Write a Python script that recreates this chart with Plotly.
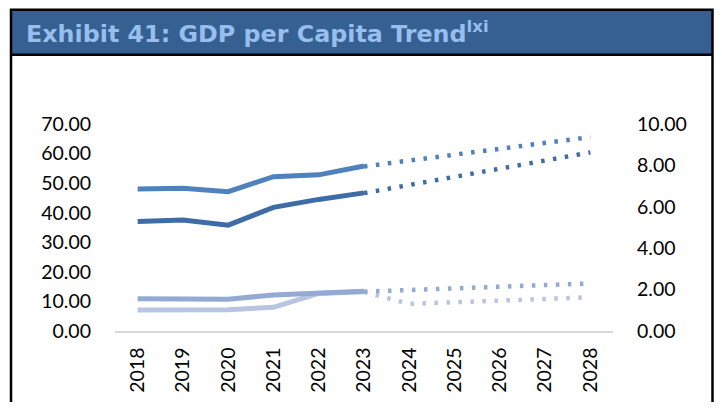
import plotly.graph_objects as go

years = ["2018", "2019", "2020", "2021", "2022", "2023", "2024", "2025", "2026", "2027", "2028"]
hist_years = years[:6]
fcst_years = years[5:]

# Historical series (left axis)
hist_a = [48.0, 48.3, 47.1, 52.2, 52.8, 55.8]
hist_b = [37.0, 37.5, 35.8, 41.8, 44.5, 46.7]
hist_c = [10.9, 10.9, 10.7, 12.2, 13.0, 13.4]
hist_d = [7.1, 7.2, 7.2, 8.0, 12.7, 13.3]

# Forecast series (right axis)
fcst_a = [7.95, 8.23, 8.52, 8.80, 9.09, 9.37]
fcst_b = [6.66, 7.05, 7.45, 7.85, 8.24, 8.63]
fcst_c = [1.90, 1.98, 2.06, 2.14, 2.22, 2.30]
fcst_d = [1.89, 1.31, 1.39, 1.46, 1.54, 1.63]

left_ticks = [0, 10, 20, 30, 40, 50, 60, 70]
right_ticks = [0, 2, 4, 6, 8, 10]

col_a = "#4F81BD"
col_b = "#3D6CA6"
col_c = "#94AAD4"
col_d = "#B7C5E2"

# page has an 8px body margin; figure sized to fit inside the 722x410 window
OFF = 8
W, H = 722 - 2 * OFF, 410 - 2 * OFF
# target plot area in page pixels: x 115..613, y 124.2..331
L = 115 - OFF
R = W - (613 - OFF)
T = 124.2 - OFF
B = H - (331 - OFF)
PW = W - L - R
PH = H - T - B


def px(x):
    return (x - OFF - L) / PW


def py(y):
    return (H - B - (y - OFF)) / PH


fig = go.Figure()

for vals, col in [(hist_d, col_d), (hist_c, col_c), (hist_b, col_b), (hist_a, col_a)]:
    fig.add_trace(go.Scatter(x=hist_years, y=vals, mode="lines",
                             line=dict(color=col, width=5), showlegend=False,
                             hoverinfo="skip", yaxis="y"))

for vals, col in [(fcst_d, col_d), (fcst_c, col_c), (fcst_b, col_b), (fcst_a, col_a)]:
    fig.add_trace(go.Scatter(x=fcst_years, y=vals, mode="lines",
                             line=dict(color=col, width=4.5, dash="3.5px,8.5px"),
                             showlegend=False, hoverinfo="skip", yaxis="y2"))

tickfont = dict(family="Lato", size=19.5, color="#000000")

fig.update_layout(
    width=W, height=H,
    margin=dict(l=L, r=R, t=T, b=B, autoexpand=False),
    paper_bgcolor="white", plot_bgcolor="white",
    xaxis=dict(type="category", categoryorder="array", categoryarray=years,
               range=[-0.5, 10.5], tickangle=-90, showgrid=False,
               showline=True, linecolor="#D9D9D9", linewidth=1.5,
               ticks="", ticklabelstandoff=7, tickfont=tickfont, zeroline=False),
    yaxis=dict(range=[0, 70], tickvals=left_ticks, tickformat=".2f",
               showgrid=False, zeroline=False, showline=False, ticks="",
               ticklabelstandoff=23, tickfont=tickfont),
    yaxis2=dict(range=[0, 10], tickvals=right_ticks, tickformat=".2f",
                overlaying="y", side="right", showgrid=False, zeroline=False,
                showline=False, ticks="", ticklabelstandoff=23, tickfont=tickfont),
    shapes=[
        dict(type="rect", xref="paper", yref="paper",
             x0=px(12), x1=px(712.5), y0=py(55), y1=py(11),
             fillcolor="#366092", line=dict(width=0), layer="below"),
        dict(type="rect", xref="paper", yref="paper",
             x0=px(11), x1=px(712.5), y0=py(440), y1=py(10),
             line=dict(color="black", width=2.5)),
        dict(type="line", xref="paper", yref="paper",
             x0=px(11), x1=px(712.5), y0=py(55), y1=py(55),
             line=dict(color="black", width=2.5)),
    ],
    annotations=[
        dict(text="<b>Exhibit 41: GDP per Capita Trend</b><sup><b>lxi</b></sup>",
             xref="paper", yref="paper", x=px(24), y=py(33),
             xanchor="left", yanchor="middle", showarrow=False,
             font=dict(family="DejaVu Sans", size=23.8, color="#97BEEC")),
    ],
)

fig.write_html("out.html")
